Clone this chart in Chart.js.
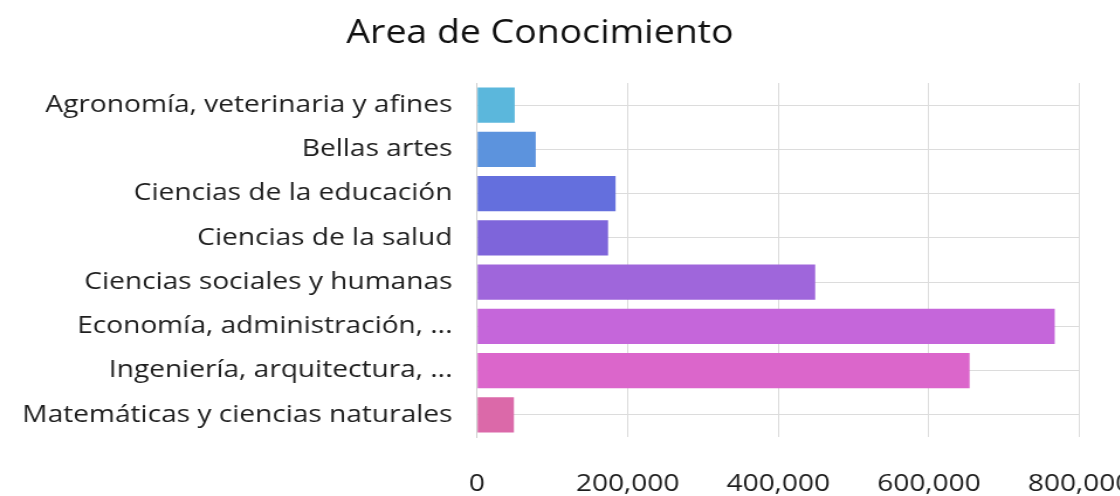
<!DOCTYPE html>
<html>
<head>
<meta charset="utf-8">
<script src="https://cdn.jsdelivr.net/npm/chart.js@4"></script>
<style>
  html, body { margin: 0; padding: 0; background: #fff; overflow: hidden; }
  /* la imagen original esta estirada en horizontal */
  #wrap { position: absolute; left: 0; top: 0; width: 1000px; height: 496px;
          transform-origin: 0 0; transform: scaleX(1.17); }
</style>
</head>
<body>
<div id="wrap"><canvas id="chart"></canvas></div>
<script>
const categorias = [
    "Agronomía, veterinaria y afines",
    "Bellas artes",
    "Ciencias de la educación",
    "Ciencias de la salud",
    "Ciencias sociales y humanas",
    "Economía, administración, ...",
    "Ingeniería, arquitectura, ...",
    "Matemáticas y ciencias naturales"
];
const valores = [50000, 78000, 184000, 174000, 449000, 767000, 654000, 49000];
const colores = ["#5bb7dc", "#5c93dd", "#646fdd", "#7e65da", "#9f66db", "#c566da", "#db66cb", "#db69a9"];
const ticksX = [0, 200000, 400000, 600000, 800000];

Chart.defaults.font.family = "'Open Sans', sans-serif";
Chart.defaults.color = "#1e1e1e";

const contexto = document.getElementById("chart").getContext("2d");

new Chart(contexto, {
    type: "bar",
    data: {
        labels: categorias,
        datasets: [{
            data: valores,
            backgroundColor: colores,
            borderWidth: 0,
            barPercentage: 0.8,
            categoryPercentage: 1
        }]
    },
    options: {
        indexAxis: "y",
        responsive: true,
        maintainAspectRatio: false,
        animation: false,
        layout: { padding: { left: 0, right: 77, top: 0, bottom: 0 } },
        plugins: {
            legend: { display: false },
            tooltip: { enabled: false },
            title: {
                display: true,
                text: "Area de Conocimiento",
                font: { size: 32, weight: "normal" },
                color: "#111",
                padding: { top: 15, bottom: 29.6 }
            }
        },
        scales: {
            x: {
                min: 0,
                max: 800000,
                afterBuildTicks: escala => {
                    escala.ticks = ticksX.map(v => ({ value: v }));
                },
                afterFit: escala => { escala.height = 59; },
                ticks: {
                    font: { size: 24 },
                    padding: 33,
                    maxRotation: 0,
                    callback: v => v.toLocaleString("en-US")
                },
                grid: { color: "#dcdcdc", drawTicks: false },
                border: { display: false }
            },
            y: {
                afterFit: escala => { escala.width = 407.7; },
                ticks: { font: { size: 24 }, padding: 21 },
                grid: { color: "#dcdcdc", drawTicks: false, offset: false },
                border: { display: true, color: "#d0d0d0" }
            }
        }
    }
});
</script>
</body>
</html>
